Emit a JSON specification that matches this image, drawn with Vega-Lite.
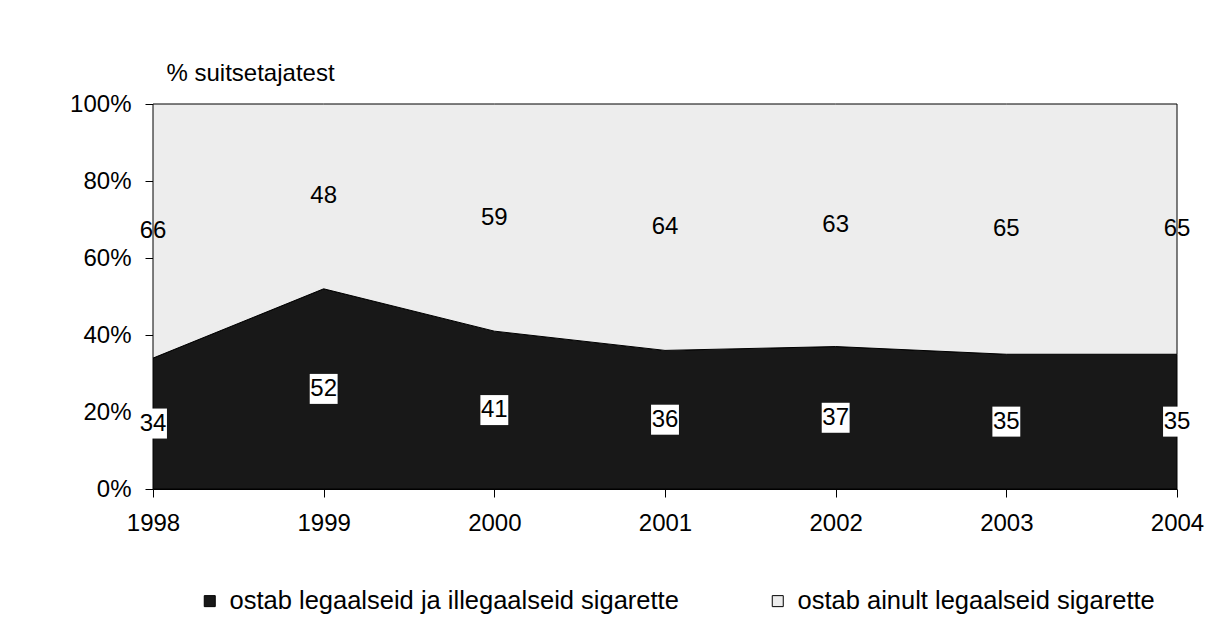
{
  "$schema": "https://vega.github.io/schema/vega-lite/v6.json",
  "width": 1024,
  "height": 385,
  "autosize": {"type": "none"},
  "padding": {"left": 153, "top": 104, "right": 51, "bottom": 137},
  "background": "white",
  "config": {
    "font": "Liberation Sans",
    "view": {"stroke": null},
    "axis": {"labelFont": "Liberation Sans", "labelFontSize": 24, "labelColor": "black", "domainColor": "black", "tickColor": "black", "grid": false, "titleFont": "Liberation Sans", "labelFlush": false, "labelOverlap": false}
  },
  "data": {
    "values": [
      {"year": 1998, "series": "ostab legaalseid ja illegaalseid sigarette", "value": 34},
      {"year": 1999, "series": "ostab legaalseid ja illegaalseid sigarette", "value": 52},
      {"year": 2000, "series": "ostab legaalseid ja illegaalseid sigarette", "value": 41},
      {"year": 2001, "series": "ostab legaalseid ja illegaalseid sigarette", "value": 36},
      {"year": 2002, "series": "ostab legaalseid ja illegaalseid sigarette", "value": 37},
      {"year": 2003, "series": "ostab legaalseid ja illegaalseid sigarette", "value": 35},
      {"year": 2004, "series": "ostab legaalseid ja illegaalseid sigarette", "value": 35},
      {"year": 1998, "series": "ostab ainult legaalseid sigarette", "value": 66},
      {"year": 1999, "series": "ostab ainult legaalseid sigarette", "value": 48},
      {"year": 2000, "series": "ostab ainult legaalseid sigarette", "value": 59},
      {"year": 2001, "series": "ostab ainult legaalseid sigarette", "value": 64},
      {"year": 2002, "series": "ostab ainult legaalseid sigarette", "value": 63},
      {"year": 2003, "series": "ostab ainult legaalseid sigarette", "value": 65},
      {"year": 2004, "series": "ostab ainult legaalseid sigarette", "value": 65}
    ]
  },
  "transform": [
    {"stack": "value", "groupby": ["year"], "sort": [{"field": "series", "order": "descending"}], "as": ["y0", "y1"]},
    {"calculate": "(datum.y0 + datum.y1) / 2", "as": "mid"}
  ],
  "layer": [
    {
      "mark": {"type": "area", "stroke": "black", "strokeWidth": 1, "opacity": 1},
      "encoding": {
        "x": {"field": "year", "type": "quantitative", "scale": {"domain": [1998, 2004], "nice": false, "zero": false},
          "axis": {"values": [1998, 1999, 2000, 2001, 2002, 2003, 2004], "format": "d", "title": null, "tickSize": 8, "labelPadding": 14, "domainWidth": 1}},
        "y": {"field": "y0", "type": "quantitative", "scale": {"domain": [0, 100], "nice": false},
          "axis": {"values": [0, 20, 40, 60, 80, 100], "labelExpr": "datum.value + '%'", "tickSize": 8, "labelPadding": 14,
            "title": "% suitsetajatest", "titleAngle": 0, "titleAlign": "left", "titleBaseline": "middle", "titleX": 13, "titleY": -31,
            "titleFontSize": 24, "titleFontWeight": "normal", "titleColor": "black"}},
        "y2": {"field": "y1"},
        "color": {"field": "series", "type": "nominal",
          "scale": {"domain": ["ostab legaalseid ja illegaalseid sigarette", "ostab ainult legaalseid sigarette"], "range": ["#181818", "#ededed"]},
          "legend": {"title": null, "orient": "none", "legendX": 44, "legendY": 484, "direction": "horizontal",
            "symbolType": "square", "symbolSize": 121, "symbolStrokeColor": "black", "symbolStrokeWidth": 1, "symbolOpacity": 1,
            "labelFontSize": 25.5, "labelFont": "Liberation Sans", "labelColor": "black", "columnPadding": 86, "labelOffset": 7, "labelLimit": 700}},
        "order": {"field": "series", "sort": "descending"}
      }
    },
    {
      "transform": [{"filter": "datum.series == 'ostab legaalseid ja illegaalseid sigarette'"}],
      "mark": {"type": "point", "shape": "M-0.93,-1H0.93V1H-0.93Z", "filled": true, "color": "white", "opacity": 1, "size": 900},
      "encoding": {
        "x": {"field": "year", "type": "quantitative"},
        "y": {"field": "mid", "type": "quantitative"}
      }
    },
    {
      "mark": {"type": "text", "fontSize": 24, "font": "Liberation Sans", "color": "black", "baseline": "middle", "align": "center"},
      "encoding": {
        "x": {"field": "year", "type": "quantitative"},
        "y": {"field": "mid", "type": "quantitative"},
        "text": {"field": "value", "type": "quantitative"}
      }
    }
  ]
}
